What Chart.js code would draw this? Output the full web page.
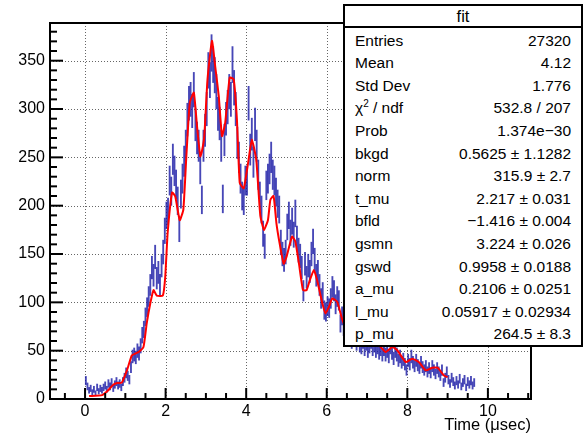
<!DOCTYPE html>
<html>
<head>
<meta charset="utf-8">
<script src="https://cdn.jsdelivr.net/npm/chart.js@4.4.1/dist/chart.umd.min.js"></script>
<style>
  html, body { margin: 0; padding: 0; background: #fff; }
  #wrap { position: relative; width: 584px; height: 435px; font-family: "Liberation Sans", Arial, sans-serif; }
  #stats {
    position: absolute; left: 343px; top: 4px; width: 240px; height: 343px;
    box-sizing: border-box; border: 2px solid #000; background: #fff; color: #000;
    font-size: 15.5px;
  }
  #stats .title { position: absolute; left: 0; right: 0; top: 0; height: 20px; line-height: 20px; text-align: center; border-bottom: 2px solid #000; font-size: 16.5px; }
  #stats .row { position: absolute; left: 10px; right: 10px; height: 22px; line-height: 22px; }
  #stats .row span:last-child { float: right; }
  #stats sup { font-size: 10px; line-height: 0; vertical-align: 6px; }
</style>
</head>
<body>
<div id="wrap">
  <canvas id="c" width="584" height="435"></canvas>
  <div id="stats"></div>
</div>
<script>
// ────────────────────────────────────────
// Data
// ────────────────────────────────────────
const binLow = 0;
const binWidth = 0.04;

// histogram bin contents, 0.04 wide bins starting at t = 0
const counts = [
    19, 13, 9, 11, 7, 10, 6, 12, 8, 11,
    9, 12, 14, 10, 16, 13, 17, 11, 15, 18,
    14, 16, 12, 18, 22, 27, 24, 20, 33, 44,
    46, 43, 50, 47, 55, 66, 72, 85, 95, 106,
    118, 136, 128, 147, 125, 131, 118, 138, 152, 174,
    190, 194, 226, 215, 248, 236, 222, 205, 176, 212,
    228, 246, 262, 289, 306, 310, 298, 320, 284, 270,
    262, 238, 206, 262, 278, 300, 340, 330, 358, 346,
    335, 318, 295, 285, 262, 207, 268, 290, 302, 318,
    310, 346, 322, 300, 265, 250, 228, 210, 205, 226,
    226, 306, 258, 274, 245, 284, 262, 232, 210, 196,
    171, 158, 221, 228, 238, 250, 232, 226, 214, 202,
    196, 162, 150, 144, 152, 178, 190, 172, 184, 170,
    192, 166, 154, 148, 136, 112, 140, 126, 138, 132,
    150, 163, 144, 128, 132, 118, 104, 110, 92, 90,
    96, 94, 104, 116, 112, 98, 106, 102, 78, 86,
    74, 66, 70, 62, 68, 60, 64, 70, 58, 62,
    56, 54, 60, 52, 58, 50, 55, 60, 52, 56,
    50, 54, 48, 52, 46, 52, 46, 50, 44, 54,
    48, 42, 50, 46, 40, 44, 38, 41, 36, 30,
    40, 36, 44, 38, 34, 40, 35, 32, 38, 33,
    30, 34, 28, 32, 27, 34, 30, 26, 32, 28,
    24, 30, 17, 22, 28, 20, 16, 22, 18, 14,
    19, 15, 21, 13, 17, 20, 12, 18, 15, 19,
    14, 17,
];

// fit curve samples
const fitTimes = [
    0.10, 0.42, 0.55, 0.70, 0.80, 0.91, 1.04, 1.16, 1.25, 1.33,
    1.45, 1.53, 1.62, 1.70, 1.78, 1.93, 1.99, 2.05, 2.16, 2.24,
    2.35, 2.44, 2.51, 2.60, 2.70, 2.78, 2.86, 2.90, 2.96, 3.04,
    3.15, 3.23, 3.32, 3.40, 3.48, 3.59, 3.69, 3.77, 3.84, 3.94,
    4.06, 4.14, 4.25, 4.35, 4.44, 4.54, 4.60, 4.68, 4.75, 4.83,
    4.93, 5.00, 5.14, 5.22, 5.31, 5.41, 5.50, 5.58, 5.68, 5.76,
    5.89, 5.97, 6.06, 6.14, 6.26, 6.39, 6.50, 6.62, 6.75, 6.90,
    7.05, 7.20, 7.34, 7.46, 7.63, 7.75, 7.96, 8.12, 8.29, 8.46,
    8.62, 8.75, 8.91, 9.00,
];
const fitValues = [
    3, 4, 8, 14.7, 16.5, 16.8, 29.6, 45, 47, 48.6,
    53.8, 78, 99, 112.7, 107, 107, 126, 171.5, 213.7, 209.6,
    185, 196, 247.6, 306.5, 317, 282, 251, 256, 272, 330.7,
    370.5, 344.5, 313, 272, 286, 332.5, 330.7, 289, 223.5, 218,
    247.7, 268.4, 247.7, 190, 175, 185, 206, 210, 182, 161,
    140, 147, 168, 163, 140, 112.7, 112.7, 123, 133.4, 123,
    99, 88.5, 96, 104, 100.5, 81.5, 72, 68, 70, 62,
    60, 57, 53.8, 48.6, 53.8, 50.4, 38.2, 41.7, 38, 29.6,
    32.4, 32.4, 24.4, 22.6,
];

const xTicks = [0, 2, 4, 6, 8, 10];
const yTicks = [0, 50, 100, 150, 200, 250, 300, 350];
const xTitle = 'Time (\u03bcsec)';

const statsTitle = 'fit';
const statsLabels = ['Entries', 'Mean', 'Std Dev', '\u03c7<sup>2</sup> / ndf', 'Prob', 'bkgd', 'norm',
    't_mu', 'bfld', 'gsmn', 'gswd', 'a_mu', 'l_mu', 'p_mu'];
const statsValues = ['27320', '4.12', '1.776', '532.8 / 207', '1.374e\u221230', '0.5625 \u00b1 1.1282',
    '315.9 \u00b1 2.7', '2.217 \u00b1 0.031', '\u22121.416 \u00b1 0.004', '3.224 \u00b1 0.026',
    '0.9958 \u00b1 0.0188', '0.2106 \u00b1 0.0251', '0.05917 \u00b1 0.02934', '264.5 \u00b1 8.3'];

// ────────────────────────────────────────
// Stats box
// ────────────────────────────────────────
function buildStats() {
    const box = document.getElementById('stats');
    let html = `<div class="title">${statsTitle}</div>`;
    statsLabels.forEach((lab, i) => {
        const top = 23.5 + i * 22.6;
        html += `<div class="row" style="top:${top}px"><span>${lab}</span><span>${statsValues[i]}</span></div>`;
    });
    box.innerHTML = html;
}
buildStats();

// ────────────────────────────────────────
// Chart
// ────────────────────────────────────────
const errBars = counts.map((v, i) => {
    const e = Math.sqrt(v);
    return { x: binLow + binWidth * (i + 0.5), y: [v - e, v + e] };
});
const fitPoints = fitTimes.map((t, i) => ({ x: t, y: fitValues[i] }));

// ROOT-like frame, dotted grid and inward ticks
const frame = {
    id: 'frame',
    beforeDatasetsDraw(chart) {
        const { ctx, chartArea: a, scales: { x, y } } = chart;
        ctx.save();
        ctx.strokeStyle = '#666';
        ctx.lineWidth = 1;
        ctx.setLineDash([1, 2]);
        xTicks.forEach(v => {
            const px = Math.round(x.getPixelForValue(v)) + 0.5;
            ctx.beginPath(); ctx.moveTo(px, a.top); ctx.lineTo(px, a.bottom); ctx.stroke();
        });
        yTicks.slice(1).forEach(v => {
            const py = Math.round(y.getPixelForValue(v)) + 0.5;
            ctx.beginPath(); ctx.moveTo(a.left, py); ctx.lineTo(a.right, py); ctx.stroke();
        });
        ctx.restore();
    },
    afterDatasetsDraw(chart) {
        const { ctx, chartArea: a, scales: { x, y } } = chart;
        ctx.save();
        ctx.strokeStyle = '#000';
        ctx.lineWidth = 2;
        ctx.strokeRect(a.left, a.top, a.right - a.left, a.bottom - a.top);
        for (let v = 0; v <= 380; v += 10) {
            const py = y.getPixelForValue(v);
            const len = v % 50 === 0 ? 13 : 7;
            ctx.beginPath(); ctx.moveTo(a.left, py); ctx.lineTo(a.left + len, py); ctx.stroke();
        }
        for (let v = -0.5; v <= 11; v += 0.5) {
            const px = x.getPixelForValue(v);
            const len = v % 2 === 0 ? 11 : 6;
            ctx.beginPath(); ctx.moveTo(px, a.bottom); ctx.lineTo(px, a.bottom - len); ctx.stroke();
        }
        ctx.restore();
    },
};

const font = { family: '"Liberation Sans", Arial, sans-serif', size: 16 };

new Chart(document.getElementById('c'), {
    type: 'bar',
    data: {
        datasets: [
            {
                type: 'line',
                data: fitPoints,
                borderColor: '#ff0000',
                borderWidth: 2,
                pointRadius: 0,
                tension: 0.15,
                fill: false,
            },
            {
                type: 'bar',
                data: errBars,
                backgroundColor: 'rgba(25, 25, 165, 0.8)',
                barThickness: 1.2,
                borderWidth: 0,
            },
        ],
    },
    options: {
        responsive: false,
        animation: false,
        events: [],
        layout: { padding: { left: 0, right: 53, top: 23, bottom: 0 } },
        plugins: { legend: { display: false }, tooltip: { enabled: false } },
        scales: {
            x: {
                type: 'linear',
                offset: false,
                min: -0.87,
                max: 11.07,
                grid: { display: false, drawTicks: false, offset: false },
                border: { display: false },
                afterBuildTicks: s => { s.ticks = xTicks.map(v => ({ value: v })); },
                afterFit: s => { s.height = 36; },
                ticks: { color: '#000', font, padding: 3, maxRotation: 0, autoSkip: false },
                title: { display: true, text: xTitle, align: 'end', color: '#000', font: { ...font, size: 16.5 }, padding: { top: 0, bottom: 0 } },
            },
            y: {
                min: 0,
                max: 389,
                grid: { display: false, drawTicks: false },
                border: { display: false },
                afterBuildTicks: s => { s.ticks = yTicks.map(v => ({ value: v })); },
                afterFit: s => { s.width = 50; },
                ticks: { color: '#000', font, padding: 5 },
            },
        },
    },
    plugins: [frame],
});
</script>
</body>
</html>
